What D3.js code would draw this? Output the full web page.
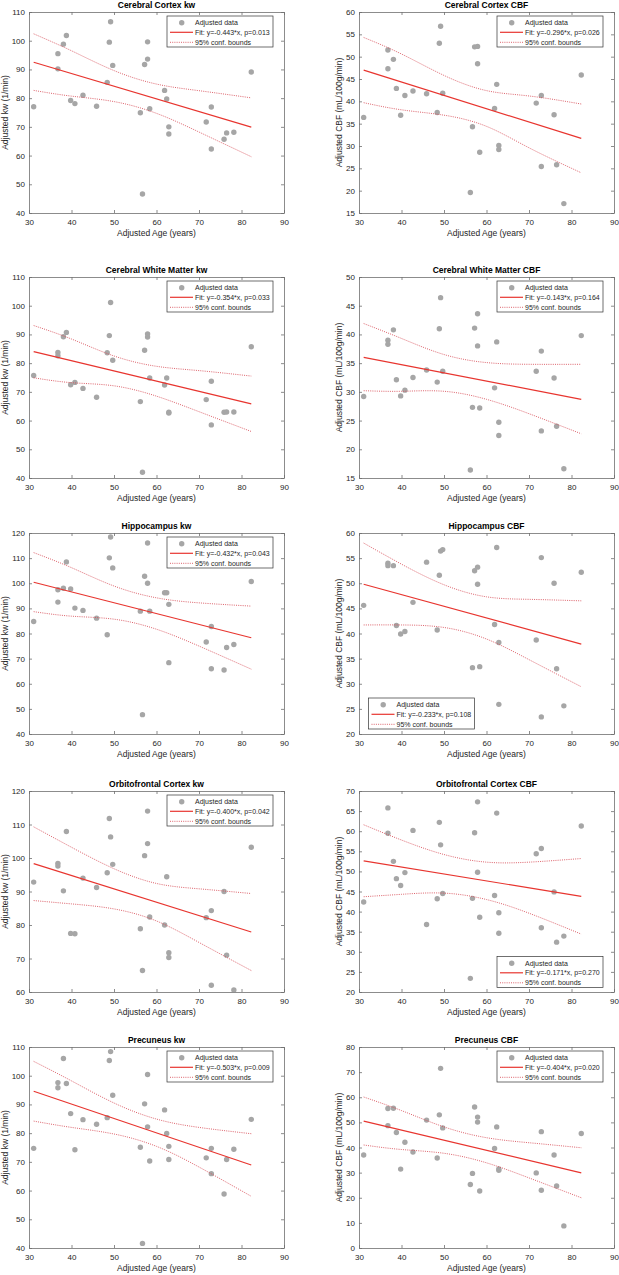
<!DOCTYPE html>
<html>
<head>
<meta charset="utf-8">
<script src="https://cdn.jsdelivr.net/npm/d3@7"></script>
<style>
  body { margin: 0; background: #ffffff; }
  svg { display: block; font-family: "Liberation Sans", Arial, sans-serif; }
</style>
</head>
<body>
<div id="chart"></div>
<script>
// Adjusted age of each subject (shared by every panel)
const age = [31.1, 36.8, 36.8, 38.1, 38.8, 39.8, 40.8, 42.7, 45.9, 48.4, 48.9, 49.2, 49.7, 56.2, 56.7,
             57.2, 57.9, 57.9, 58.4, 61.9, 62.4, 62.9, 62.9, 71.7, 72.9, 72.9, 75.9, 76.5, 78.2, 82.3];

// Adjusted values per region (same subject order as age)
const ccKw   = [77.0, 95.5, 90.2, 98.8, 101.8, 79.2, 78.1, 81.0, 77.2, 85.5, 99.5, 106.6, 91.4, 74.9, 46.6,
                91.7, 99.6, 93.6, 76.3, 82.7, 79.7, 70.0, 67.5, 71.7, 76.9, 62.3, 65.7, 67.9, 68.1, 89.1];
const ccCbf  = [36.4, 47.3, 51.5, 49.4, 42.9, 36.9, 41.3, 42.3, 41.7, 37.5, 53.0, 56.8, 41.8, 19.6, 34.3,
                52.2, 52.3, 48.4, 28.6, 38.4, 43.8, 30.1, 29.2, 39.6, 41.3, 25.4, 37.0, 25.8, 17.1, 45.9];
const cwmKw  = [75.7, 83.7, 82.6, 89.2, 90.7, 72.5, 73.3, 71.2, 68.1, 83.6, 89.6, 101.1, 81.0, 66.6, 42.0,
                84.5, 90.2, 89.1, 74.8, 72.4, 74.8, 62.9, 62.6, 67.3, 73.7, 58.5, 62.9, 63.0, 63.0, 85.7];
const cwmCbf = [29.2, 39.0, 38.3, 40.8, 32.1, 29.3, 30.3, 32.5, 33.8, 31.7, 41.0, 46.4, 33.6, 16.4, 27.3,
                41.1, 43.6, 38.0, 27.2, 30.7, 38.7, 24.7, 22.4, 33.6, 37.1, 23.2, 32.4, 24.0, 16.6, 39.8];
const hipKw  = [84.8, 97.4, 92.5, 98.0, 108.5, 97.7, 90.1, 89.2, 86.1, 79.5, 110.1, 118.4, 106.1, 88.9, 47.7,
                102.8, 116.0, 100.0, 88.9, 96.2, 96.2, 91.6, 68.4, 76.6, 82.8, 66.0, 65.5, 74.4, 75.6, 100.7];
// one subject falls below the visible range in this panel
const hipCbf = [45.6, 54.0, 53.5, 53.5, 41.6, 39.9, 40.4, 46.2, 54.2, 40.7, 51.6, 56.4, 56.7, null, 33.2,
                52.5, 53.2, 49.8, 33.4, 41.8, 57.1, 38.2, 25.9, 38.7, 55.1, 23.4, 50.0, 33.0, 25.6, 52.2];
const ofcKw  = [92.8, 98.4, 97.6, 90.2, 107.9, 77.5, 77.4, 94.0, 91.2, 95.6, 111.8, 106.3, 98.1, 78.9, 66.4,
                100.7, 114.0, 104.3, 82.4, 80.0, 94.4, 71.7, 70.3, 82.2, 84.3, 62.0, 90.0, 71.0, 60.6, 103.2];
const ofcCbf = [42.4, 65.8, 59.5, 52.5, 48.2, 46.5, 49.7, 60.2, 36.8, 43.2, 62.2, 56.6, 44.5, 23.4, 43.3,
                59.6, 67.3, 49.8, 38.6, 44.0, 64.5, 39.7, 34.6, 54.4, 55.7, 36.0, 44.9, 32.4, 33.9, 61.3];
const pcuKw  = [74.7, 97.6, 95.8, 106.0, 97.3, 86.8, 74.2, 84.7, 83.1, 85.4, 105.3, 108.4, 93.2, 75.1, 41.6,
                90.2, 100.4, 82.2, 70.3, 88.1, 79.9, 75.4, 70.8, 71.4, 74.7, 65.9, 58.8, 70.8, 74.4, 84.8];
const pcuCbf = [37.0, 55.5, 48.7, 55.6, 46.0, 31.4, 42.1, 38.2, 50.9, 35.8, 53.0, 71.5, 47.8, 25.3, 29.7,
                56.1, 52.1, 50.1, 22.7, 39.6, 48.2, 31.5, 30.9, 29.9, 46.3, 23.0, 37.0, 24.7, 8.8, 45.6];

// Fit line end points (at first and last age)
const fitAge = [31.1, 82.3];
const ccKwFit = [92.5, 69.9];
const ccCbfFit = [47.0, 31.7];
const cwmKwFit = [84.0, 65.8];
const cwmCbfFit = [36.0, 28.7];
const hipKwFit = [100.4, 78.3];
const hipCbfFit = [49.8, 37.9];
const ofcKwFit = [98.3, 77.9];
const ofcCbfFit = [52.6, 43.8];
const pcuKwFit = [94.6, 68.9];
const pcuCbfFit = [50.5, 29.9];

// 95% confidence bounds read at these ages
const bandAge = [31.1, 40, 50, 60, 70, 82.3];
const ccKwUpper = [102.4, 96.5, 89.6, 84.9, 82.6, 80.1];
const ccKwLower = [82.7, 80.7, 78.8, 74.7, 68.2, 59.6];
const ccCbfUpper = [54.3, 50.6, 45.8, 42.4, 41.2, 39.4];
const ccCbfLower = [39.7, 38.1, 36.9, 34.4, 29.6, 24.0];
const cwmKwUpper = [93.1, 88.4, 82.5, 78.9, 77.4, 75.5];
const cwmKwLower = [74.9, 73.2, 72.1, 68.5, 63.1, 56.2];
const cwmCbfUpper = [41.9, 39.3, 36.5, 35.1, 34.8, 34.8];
const cwmCbfLower = [30.2, 30.1, 30.1, 28.7, 26.2, 22.7];
const hipKwUpper = [112.2, 106.2, 98.9, 94.2, 92.2, 90.9];
const hipKwLower = [88.7, 86.9, 85.7, 81.7, 75.0, 65.8];
const hipCbfUpper = [58.0, 53.8, 49.7, 47.3, 46.8, 46.5];
const hipCbfLower = [41.7, 41.7, 41.2, 38.9, 34.8, 29.4];
const ofcKwUpper = [109.3, 103.2, 96.8, 92.4, 90.8, 89.4];
const ofcKwLower = [87.3, 86.3, 84.8, 81.2, 74.8, 66.4];
const ofcCbfUpper = [61.6, 57.8, 54.2, 52.3, 52.3, 53.2];
const ofcCbfLower = [43.7, 44.3, 44.6, 43.0, 39.6, 34.4];
const pcuKwUpper = [105.0, 98.2, 90.5, 84.9, 82.0, 79.8];
const pcuKwLower = [84.2, 82.0, 79.7, 75.4, 68.2, 58.0];
const pcuCbfUpper = [60.1, 54.7, 48.2, 43.9, 41.9, 39.9];
const pcuCbfLower = [41.0, 39.2, 37.7, 33.9, 27.9, 20.0];

// Panel labels
const titles = ["Cerebral Cortex kw", "Cerebral Cortex CBF", "Cerebral White Matter kw", "Cerebral White Matter CBF",
                "Hippocampus kw", "Hippocampus CBF", "Orbitofrontal Cortex kw", "Orbitofrontal Cortex CBF",
                "Precuneus kw", "Precuneus CBF"];
const fitLabels = ["Fit: y=-0.443*x, p=0.013", "Fit: y=-0.296*x, p=0.026", "Fit: y=-0.354*x, p=0.033", "Fit: y=-0.143*x, p=0.164",
                   "Fit: y=-0.432*x, p=0.043", "Fit: y=-0.233*x, p=0.108", "Fit: y=-0.400*x, p=0.042", "Fit: y=-0.171*x, p=0.270",
                   "Fit: y=-0.503*x, p=0.009", "Fit: y=-0.404*x, p=0.020"];
const yDomains = [[40, 110], [15, 60], [40, 110], [15, 50], [40, 120], [20, 60], [60, 120], [20, 70], [40, 110], [0, 80]];
const yTickSteps = [10, 5, 10, 5, 10, 5, 10, 5, 10, 10];
const legendSpots = ["ne", "ne", "ne", "ne", "ne", "sw", "ne", "se", "ne", "ne"];
const xTicks = [30, 40, 50, 60, 70, 80, 90];

var values = [ccKw, ccCbf, cwmKw, cwmCbf, hipKw, hipCbf, ofcKw, ofcCbf, pcuKw, pcuCbf];
var fits = [ccKwFit, ccCbfFit, cwmKwFit, cwmCbfFit, hipKwFit, hipCbfFit, ofcKwFit, ofcCbfFit, pcuKwFit, pcuCbfFit];
var uppers = [ccKwUpper, ccCbfUpper, cwmKwUpper, cwmCbfUpper, hipKwUpper, hipCbfUpper, ofcKwUpper, ofcCbfUpper, pcuKwUpper, pcuCbfUpper];
var lowers = [ccKwLower, ccCbfLower, cwmKwLower, cwmCbfLower, hipKwLower, hipCbfLower, ofcKwLower, ofcCbfLower, pcuKwLower, pcuCbfLower];

// Layout of the 5x2 grid
var width = 619, height = 1275;
var colLeft = [29, 359];
var rowTop = [12, 277, 533, 791, 1047];
var plotW = 255, plotH = 201;
var yLabelX = [5, 339];

var axisColor = "#6e6e6e";
var textColor = "#262626";
var dotColor = "#a6a6a6";
var fitColor = "#e8352f";
var boundColor = "#d8505a";

var svg = d3.select("#chart")
    .append("svg")
    .attr("width", width)
    .attr("height", height);

svg.append("rect").attr("width", width).attr("height", height).attr("fill", "#ffffff");

titles.forEach(function (title, i) {
    var col = i % 2, row = Math.floor(i / 2);
    var left = colLeft[col], top = rowTop[row];

    var x = d3.scaleLinear().domain([30, 90]).range([0, plotW]);
    var y = d3.scaleLinear().domain(yDomains[i]).range([plotH, 0]);
    var yTicks = d3.range(yDomains[i][0], yDomains[i][1] + 0.001, yTickSteps[i]);

    var g = svg.append("g").attr("transform", "translate(" + left + "," + top + ")");

    g.append("clipPath").attr("id", "clip" + i)
        .append("rect").attr("width", plotW).attr("height", plotH);

    // Axes box with inward ticks on all four sides
    g.append("g").attr("transform", "translate(0," + plotH + ")")
        .call(d3.axisBottom(x).tickValues(xTicks).tickSizeInner(-3).tickSizeOuter(0).tickPadding(6));
    g.append("g")
        .call(d3.axisLeft(y).tickValues(yTicks).tickSizeInner(-3).tickSizeOuter(0).tickPadding(4));
    g.append("g")
        .call(d3.axisTop(x).tickValues(xTicks).tickSizeInner(-3).tickSizeOuter(0).tickFormat(""));
    g.append("g").attr("transform", "translate(" + plotW + ",0)")
        .call(d3.axisRight(y).tickValues(yTicks).tickSizeInner(-3).tickSizeOuter(0).tickFormat(""));

    g.selectAll(".domain, .tick line").attr("stroke", axisColor).attr("stroke-width", 0.8);
    g.selectAll(".tick text").attr("fill", textColor).style("font-size", "8px")
        .style("font-family", "'Liberation Sans', Arial, sans-serif");

    // Title and axis labels
    g.append("text")
        .attr("x", plotW / 2).attr("y", -4.5)
        .attr("text-anchor", "middle")
        .style("font-size", "8.5px").style("font-weight", "bold")
        .attr("fill", "#000000")
        .text(title);

    g.append("text")
        .attr("x", plotW / 2).attr("y", plotH + 23)
        .attr("text-anchor", "middle")
        .style("font-size", "8.5px")
        .attr("fill", textColor)
        .text("Adjusted Age (years)");

    g.append("text")
        .attr("transform", "translate(" + (yLabelX[col] - left + 3) + "," + (plotH / 2) + ") rotate(-90)")
        .attr("text-anchor", "middle")
        .style("font-size", "8.5px")
        .attr("fill", textColor)
        .text(col === 0 ? "Adjusted kw (1/min)" : "Adjusted CBF (mL/100g/min)");

    var plot = g.append("g").attr("clip-path", "url(#clip" + i + ")");

    // Scatter points
    var pts = age.map(function (a, k) { return { a: a, v: values[i][k] }; })
        .filter(function (d) { return d.v !== null; });
    plot.selectAll("circle")
        .data(pts)
        .enter()
        .append("circle")
        .attr("cx", function (d) { return x(d.a); })
        .attr("cy", function (d) { return y(d.v); })
        .attr("r", 2.7)
        .attr("fill", dotColor);

    // Fit line
    var fitLine = d3.line()
        .x(function (d) { return x(d[0]); })
        .y(function (d) { return y(d[1]); });
    plot.append("path")
        .attr("d", fitLine(d3.zip(fitAge, fits[i])))
        .attr("fill", "none")
        .attr("stroke", fitColor)
        .attr("stroke-width", 1.2);

    // Confidence bounds
    var boundLine = d3.line()
        .x(function (d) { return x(d[0]); })
        .y(function (d) { return y(d[1]); })
        .curve(d3.curveNatural);
    [uppers[i], lowers[i]].forEach(function (b) {
        plot.append("path")
            .attr("d", boundLine(d3.zip(bandAge, b)))
            .attr("fill", "none")
            .attr("stroke", boundColor)
            .attr("stroke-width", 0.9)
            .attr("stroke-dasharray", "1,1.2");
    });

    // Legend
    var legW = 106, legH = 31;
    var lx, ly;
    if (legendSpots[i] === "ne") { lx = plotW - 11 - legW; ly = 4; }
    else if (legendSpots[i] === "se") { lx = plotW - 11 - legW; ly = plotH - 4.5 - legH; }
    else { lx = 9.5; ly = plotH - 5 - legH; }

    var leg = g.append("g").attr("transform", "translate(" + lx + "," + ly + ")");
    leg.append("rect")
        .attr("width", legW).attr("height", legH)
        .attr("fill", "#ffffff")
        .attr("stroke", "#333333")
        .attr("stroke-width", 0.7);

    var rows = [6.7, 16.3, 26.3];
    leg.append("circle").attr("cx", 14.7).attr("cy", rows[0]).attr("r", 2.7).attr("fill", dotColor);
    leg.append("line").attr("x1", 3).attr("x2", 26).attr("y1", rows[1]).attr("y2", rows[1])
        .attr("stroke", fitColor).attr("stroke-width", 1.2);
    leg.append("line").attr("x1", 3).attr("x2", 26).attr("y1", rows[2]).attr("y2", rows[2])
        .attr("stroke", boundColor).attr("stroke-width", 0.9).attr("stroke-dasharray", "1,1.2");

    var legText = ["Adjusted data", fitLabels[i], "95% conf. bounds"];
    leg.selectAll("text.lt")
        .data(legText)
        .enter()
        .append("text")
        .attr("class", "lt")
        .attr("x", 28)
        .attr("y", function (d, k) { return rows[k]; })
        .attr("dy", "0.35em")
        .style("font-size", "7px")
        .attr("fill", textColor)
        .text(function (d) { return d; });
});
</script>
</body>
</html>
